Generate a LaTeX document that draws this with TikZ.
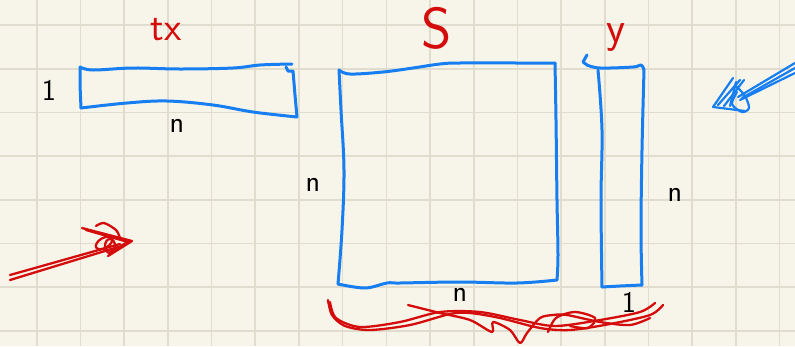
\documentclass[tikz,border=0pt]{standalone}
\usepackage{xcolor}
\usepackage{tikz}
\usetikzlibrary{arrows.meta}

\definecolor{paper}{RGB}{247,245,234}
\definecolor{gridln}{RGB}{224,221,206}
\definecolor{inkblue}{RGB}{22,126,240}
\definecolor{inkred}{RGB}{212,12,12}

\begin{document}
\begin{tikzpicture}[x=1pt,y=-1pt,
    gridline/.style={gridln,line width=1.6pt},
    blueink/.style={inkblue,line width=3pt,line cap=round,line join=round},
    redink/.style={inkred,line width=2.3pt,line cap=round,line join=round},
    dimlabel/.style={font=\sffamily\fontsize{30}{30}\selectfont,inner sep=0pt},
    namelabel/.style={inkred,font=\sffamily\fontsize{40}{40}\selectfont,inner sep=0pt}]
        % paper and grid, 1 unit = 1 px, cell = 43.7
        \useasboundingbox (0,0) rectangle (795,346);
        \fill[paper] (0,0) rectangle (795,346);
        \foreach \k in {0,...,17}
          {\draw[gridline] (36.7+43.7*\k,0) -- (36.7+43.7*\k,346);}
        \foreach \k in {0,...,7}
          {\draw[gridline] (0,25+43.7*\k) -- (795,25+43.7*\k);}
        % row vector tx (1 x n)
        \draw[blueink] plot[smooth,tension=0.6] coordinates {(80,67) (93,70) (133,68) (180,69) (233,68) (260,65) (292,64)};
        \draw[blueink] (286,67) -- (288,71) -- (293,71) -- (295,95) -- (297,117);
        \draw[blueink] plot[smooth,tension=0.6] coordinates {(297,117) (253,112) (213,105) (167,101) (127,103) (81,108)};
        \draw[blueink] (81,108) -- (80,85) -- (80,67);
        % matrix S (n x n)
        \draw[blueink] plot[smooth,tension=0.6] coordinates {(339,70) (350,74) (383,72) (413,68) (440,64) (460,63) (520,63) (555,63)};
        \draw[blueink] plot[smooth,tension=0.6] coordinates {(555,63) (556,120) (557,200) (558,255) (557,280)};
        \draw[blueink] plot[smooth,tension=0.6] coordinates {(557,280) (517,283) (460,282) (400,283) (387,283) (365,288) (338,284)};
        \draw[blueink] plot[smooth,tension=0.6] coordinates {(338,284) (342,230) (344,170) (341,110) (339,70)};
        % column vector y (n x 1)
        \draw[blueink] (587,55) -- (583,62) -- (587,65);
        \draw[blueink] plot[smooth,tension=0.6] coordinates {(587,65) (600,68) (633,67) (641,65) (644,70)};
        \draw[blueink] plot[smooth,tension=0.6] coordinates {(644,70) (642,150) (641,230) (642,285)};
        \draw[blueink] (642,285) -- (620,286) -- (602,287);
        \draw[blueink] plot[smooth,tension=0.6] coordinates {(602,287) (601,200) (602,130) (598,70)};
        % labels
        \node[namelabel] (tx) at (166,30) {tx};
        \node[namelabel,font=\sffamily\fontsize{58}{58}\selectfont] (S) at (437,28) {S};
        \node[namelabel,font=\sffamily\fontsize{44}{44}\selectfont,anchor=base] (y) at (616,42) {y};
        \node[dimlabel] (txrows) at (49,90) {1};
        \node[dimlabel] (txcols) at (177,126) {n};
        \node[dimlabel] (Srows) at (313,185) {n};
        \node[dimlabel] (yrows) at (675,195) {n};
        \node[dimlabel] (Scols) at (460,295) {n};
        \node[dimlabel] (ycols) at (629,302) {1};
        % red brace under S and y
        \draw[redink] plot[smooth] coordinates {(328,300) (332,315) (345,326) (370,330) (410,325) (450,314) (470,313) (500,318) (540,328) (570,330) (610,324) (650,315) (663,305)};
        \draw[redink] plot[smooth] coordinates {(330,302) (336,318) (360,327) (400,322) (440,312) (480,312) (520,320) (555,326) (600,320) (640,312) (655,303)};
        \draw[redink] plot[smooth] coordinates {(408,305) (440,313) (470,320) (492,332) (493,322) (510,330) (520,343) (527,333) (540,318) (553,315) (567,315) (600,322) (630,325) (650,318)};
        \draw[redink] plot[smooth] coordinates {(548,332) (556,318) (575,312) (595,318) (588,328) (570,326)};
        % red arrow, bottom left
        \draw[redink] (10,280) -- (118,247);
        \draw[redink] (10,275) -- (120,244);
        \draw[redink] (82,228) -- (132,241) -- (108,256);
        \draw[redink] (86,230) -- (128,242) -- (110,252);
        \draw[redink] plot[smooth] coordinates {(96,226) (104,223) (116,230) (120,238)};
        \draw[redink] (104,243) ellipse [x radius=9,y radius=5,rotate=30];
        \draw[redink] (110,246) ellipse [x radius=5,y radius=7];
        % blue arrow, top right
        \draw[blueink,line width=2.2pt] (795,63) -- (738,97);
        \draw[blueink,line width=2.2pt] (795,73) -- (740,100);
        \draw[blueink,line width=2.2pt] (795,68) -- (742,98);
        \draw[blueink,line width=2.2pt] (733,78) -- (713,107) -- (745,111);
        \draw[blueink,line width=2.2pt] (740,80) -- (718,105);
        \draw[blueink,line width=2.2pt] (736,82) -- (730,106);
        \draw[blueink,line width=2.2pt] (744,80) -- (724,106);
        \draw[blueink,line width=2.2pt] plot[smooth] coordinates {(736,86) (745,96) (749,108) (742,112) (732,104) (737,92)};
\end{tikzpicture}
\end{document}
